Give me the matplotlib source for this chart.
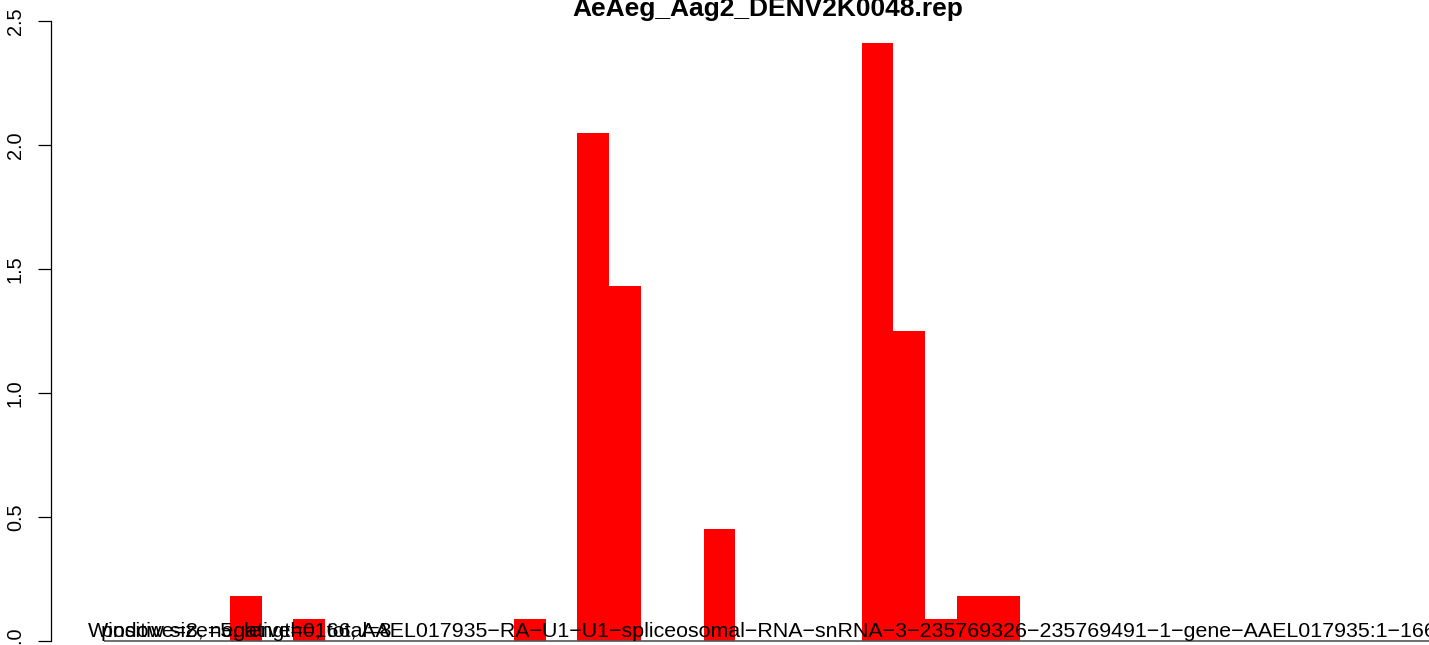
import matplotlib
matplotlib.use('Agg')
import matplotlib.pyplot as plt

plt.rcParams['font.family'] = ['Liberation Sans', 'DejaVu Sans']

title = 'AeAeg_Aag2_DENV2K0048.rep'
gene = 'AAEL017935-RA-U1-U1-spliceosomal-RNA-snRNA-3-235769326-235769491-1-gene-AAEL017935:1-166'
window_info = 'Window size=5, length=166, '
count_info = 'positive=8, negative=0, total=8'

# per-window coverage (42 windows along the transcript)
coverage = [0, 0, 0, 0, 0.18, 0, 0.09, 0, 0, 0,
            0, 0, 0, 0.09, 0, 2.05, 1.43, 0, 0, 0.45,
            0, 0, 0, 0, 2.41, 1.25, 0.09, 0.18, 0.18, 0,
            0, 0, 0, 0, 0, 0, 0, 0, 0, 0,
            0, 0]
yticks = [0.0, 0.5, 1.0, 1.5, 2.0, 2.5]

W, H = 1429, 645
fig = plt.figure(figsize=(W / 100, H / 100), dpi=100)

# plot region as R would set it: 4% padding on both axes
n = len(coverage)
ymax = max(coverage)
x0, x1 = -0.04 * n, n * 1.04
y0, y1 = -0.04 * ymax, ymax * 1.04
left_px, right_px = 50.5, 1483.5
ppu = 248.0  # pixels per y unit
zero_px = 641.0
top_px = zero_px - y1 * ppu
bot_px = zero_px - y0 * ppu
ax = fig.add_axes([left_px / W, (H - bot_px) / H,
                   (right_px - left_px) / W, (bot_px - top_px) / H])
ax.set_xlim(x0, x1)
ax.set_ylim(y0, y1)

ax.bar(range(n), coverage, width=1.0, align='edge', color='red',
       edgecolor='none', linewidth=0)
ax.hlines(0, 0, n, color='#555555', linewidth=1.2, zorder=1)

for s in ['top', 'right', 'bottom']:
    ax.spines[s].set_visible(False)
ax.spines['left'].set_bounds(yticks[0], yticks[-1])
ax.spines['left'].set_linewidth(0.9)
ax.set_xticks([])
ax.set_yticks(yticks)
ax.set_yticklabels(['%.1f' % v for v in yticks], rotation=90, va='center',
                   fontsize=14.3)
ax.tick_params(axis='y', length=9.4, width=0.9, pad=9)

# R draws hyphens in text as minus signs
minus = lambda s: s.replace('-', '\u2212')
ax.text(-0.49, 0.015, minus(window_info + gene), fontsize=15.4,
        ha='left', va='baseline', color='black', clip_on=False)
ax.text(-0.08, 0.015, minus(count_info), fontsize=15.4,
        ha='left', va='baseline', color='black', clip_on=False)

fig.text(767.5 / W, 1 - 16 / H, title, fontsize=19, fontweight='bold',
         ha='center', va='baseline')

fig.savefig('out.png', dpi=100)
